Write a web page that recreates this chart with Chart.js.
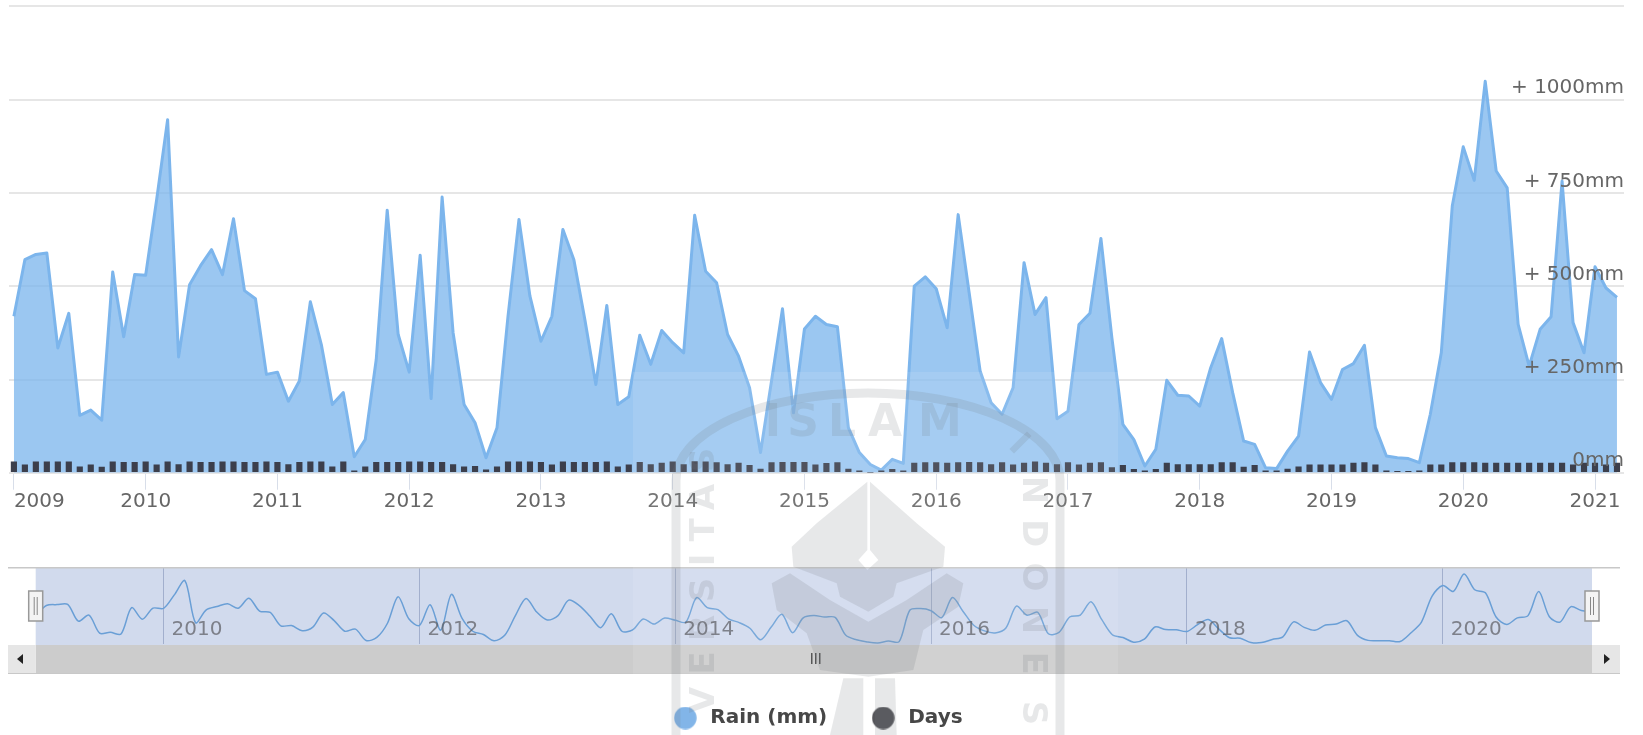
<!DOCTYPE html>
<html><head><meta charset="utf-8">
<style>html,body{margin:0;padding:0;background:#fff;width:1643px;height:735px;overflow:hidden}
canvas{position:absolute;left:0;top:0}</style>
<script src="https://cdn.jsdelivr.net/npm/chart.js@4"></script></head>
<body><div style="position:absolute;left:0;top:0;width:1643px;height:735px"><canvas id="main" width="1643" height="735"></canvas></div>
<div style="position:absolute;left:0;top:0;width:1643px;height:735px"><canvas id="nav" width="1643" height="735"></canvas></div>
<script>
const years=[2009,2010,2011,2012,2013,2014,2015,2016,2017,2018,2019,2020,2021];
const rain=[420,572,586,590,335,428,154,168,141,539,365,532,
530,733,948,311,505,556,599,532,682,489,467,264,
270,192,246,459,344,183,215,43,89,304,705,371,
270,584,199,740,376,183,134,40,121,420,680,474,
353,420,653,572,411,237,449,183,204,369,291,382,
349,322,691,541,510,371,313,228,54,246,440,161,
386,420,398,392,121,54,22,7,36,25,501,526,
494,389,693,483,273,188,157,228,564,425,470,145,
165,398,428,629,362,130,89,18,63,248,208,206,
179,282,360,215,85,76,13,11,58,98,324,242,
197,277,293,342,121,45,40,38,27,157,322,716,
875,785,1051,810,765,398,286,385,419,783,403,322,
553,496,471];
const days=[29,21,29,29,29,29,16,21,15,29,28,28,
29,21,29,22,29,28,28,29,29,28,28,29,
28,22,28,29,29,16,29,5,16,28,28,28,
29,29,28,28,22,16,17,8,16,29,29,29,
28,21,29,28,28,28,29,16,21,28,22,26,
29,22,30,29,27,22,26,20,10,27,28,28,
28,21,25,27,10,5,0,5,9,5,26,27,
27,26,27,28,27,22,27,21,26,29,26,22,
27,21,26,27,14,20,9,5,9,26,22,22,
22,22,27,27,15,20,5,5,10,16,21,21,
21,21,26,27,21,5,4,4,5,21,21,27,
27,27,26,26,26,26,26,26,26,26,21,26,
26,21,26];
const yTicks=[0,250,500,750,1000,1254];
const yLabels=['0mm','+ 250mm','+ 500mm','+ 750mm','+ 1000mm',''];
const navYears=[2010,2012,2014,2016,2018,2020];
const seriesNames=['Rain (mm)','Days'];
const FONT='"DejaVu Sans", sans-serif';
const xy=a=>a.map((v,i)=>({x:i,y:v}));
const dot=c=>{const e=document.createElement('canvas');e.width=23;e.height=23;const g=e.getContext('2d');g.fillStyle=c;g.beginPath();g.arc(11.5,11.5,11.2,0,7);g.fill();return e;};

new Chart(document.getElementById('main'),{
  type:'line',
  data:{datasets:[
    {type:'line',label:seriesNames[0],data:xy(rain),order:2,borderColor:'#7cb5ec',borderWidth:3,
     backgroundColor:'rgba(124,181,236,0.76)',fill:'origin',pointRadius:0,tension:0,borderJoinStyle:'round'},
    {type:'bar',label:seriesNames[1],data:xy(days),order:1,backgroundColor:'#3c3f4c',barThickness:5.5}
  ]},
  options:{responsive:false,animation:false,
    layout:{padding:{left:9,right:19,top:5.7,bottom:-3}},
    plugins:{tooltip:{enabled:false},
      legend:{position:'bottom',align:'center',
        labels:{usePointStyle:true,pointStyleWidth:30,boxHeight:16,padding:41,color:'#333',
          font:{family:FONT,size:20,weight:'bold'},
          generateLabels:()=>[
            {text:seriesNames[0],fontColor:'#333',pointStyle:dot('#74ade6'),datasetIndex:0,lineWidth:0},
            {text:seriesNames[1],fontColor:'#333',pointStyle:dot('#434348'),datasetIndex:1,lineWidth:0}]
        }}},
    scales:{
      x:{type:'linear',min:-0.446,max:146.64,offset:false,
        afterBuildTicks:s=>{s.ticks=years.map((y,i)=>({value:i*12})).concat([{value:146.64}]);},
        afterFit:s=>{s.height=735+3-472.7-(s.chart.legend?s.chart.legend.height:75);},
        ticks:{autoSkip:false,maxRotation:0,align:'inner',padding:0,color:'#666',font:{family:FONT,size:20},
          callback:(v)=>{const i=v/12;return Number.isInteger(i)&&years[i]?String(years[i]):'';}},
        grid:{offset:false,drawOnChartArea:false,tickLength:17,tickColor:c=>c.index===years.length?'rgba(0,0,0,0)':'#d8dee9',lineWidth:1},
        border:{display:false}},
      y:{type:'linear',position:'right',min:0,max:1254,
        afterBuildTicks:s=>{s.ticks=yTicks.map(v=>({value:v}));},
        afterFit:s=>{s.paddingTop=0;s.paddingBottom=0;},
        ticks:{mirror:true,padding:0,labelOffset:-12,z:1,color:'#666',font:{family:FONT,size:20},
          callback:v=>yLabels[yTicks.indexOf(v)]},
        grid:{color:'#e6e6e6',lineWidth:2,drawTicks:false},border:{display:false}}
    }
  }
});

const Z=(x,y)=>[630+x/3,370+y/3];
const poly=(g,pts)=>{g.beginPath();pts.forEach((p,i)=>{const q=Z(p[0],p[1]);i?g.lineTo(q[0],q[1]):g.moveTo(q[0],q[1]);});g.closePath();g.fill();};
const navChrome={id:'navChrome',
  beforeDatasetsDraw(c){const g=c.ctx,a=c.chartArea;g.save();
    g.fillStyle='rgba(102,133,194,0.3)';g.fillRect(a.left,568,a.right-a.left,77);
    g.fillStyle='#cccccc';g.fillRect(a.left,645,a.right-a.left,28);
    g.fillStyle='#e6e6e6';g.fillRect(8,645,a.left-8,28);g.fillRect(a.right,645,1620-a.right,28);
    g.fillStyle='#c8c8c8';g.fillRect(8,567,1612,1.5);
    g.fillRect(8,673,1612,1);
    g.restore();},
  afterDatasetsDraw(c){const g=c.ctx,a=c.chartArea;g.save();
    g.fillStyle='#222';
    g.beginPath();g.moveTo(17,659);g.lineTo(23,654);g.lineTo(23,664);g.fill();
    g.beginPath();g.moveTo(1610,659);g.lineTo(1604,654);g.lineTo(1604,664);g.fill();
    g.fillStyle='#444';[811,815,819].forEach(x=>g.fillRect(x,653,1.5,11));
    [a.left,a.right].forEach(x=>{g.fillStyle='#f4f4f4';g.strokeStyle='#999';g.lineWidth=1.5;
      g.fillRect(x-7,591,14,30);g.strokeRect(x-7,591,14,30);
      g.fillStyle='#888';g.fillRect(x-2,597,1,18);g.fillRect(x+1,597,1,18);});
    g.restore();
    // faint overlaid stamp
    g.save();
    g.fillStyle='rgba(255,255,255,0.1)';g.fillRect(633,372,485,363);
    const ink='rgba(115,118,125,0.17)';
    g.strokeStyle=ink;g.lineWidth=9;
    g.beginPath();g.moveTo(676,735);g.lineTo(676,480);g.ellipse(868,480,192,87,0,Math.PI,2*Math.PI);g.lineTo(1060,735);g.stroke();
    g.fillStyle=ink;g.textAlign='center';g.textBaseline='middle';
    g.font='bold 44px "DejaVu Sans"';
    [['I',773],['S',803],['L',842],['A',885],['M',940]].forEach(p=>g.fillText(p[0],p[1],425));
    g.font='bold 34px "DejaVu Sans"';
    [['V',700],['E',663],['R',628],['S',590],['I',560],['T',530],['A',497],['S',460]].forEach(p=>{
      g.save();g.translate(705,p[1]);g.rotate(-Math.PI/2);g.fillText(p[0],0,0);g.restore();});
    [['N',490],['D',533],['O',577],['N',620],['E',663],['S',713]].forEach(p=>{
      g.save();g.translate(1032,p[1]);g.rotate(Math.PI/2);g.fillText(p[0],0,0);g.restore();});
    g.save();g.translate(1018,445);g.rotate(Math.PI/4);g.fillText('I',0,0);g.restore();
    poly(g,[[712,335],[712,540],[685,570],[712,600],[745,570],[720,540],[720,335],[860,460],[945,530],[940,590],[800,640],[790,680],[715,725],[630,680],[620,640],[490,590],[485,530],[560,460]]);
    poly(g,[[425,640],[480,610],[600,690],[715,755],[830,690],[950,610],[1000,640],[985,710],[880,780],[850,900],[715,920],[570,900],[530,790],[440,720]]);
    poly(g,[[640,925],[700,925],[700,1095],[600,1095]]);
    poly(g,[[735,925],[795,925],[800,1095],[735,1095]]);
    g.restore();}
};

new Chart(document.getElementById('nav'),{
  type:'line',
  data:{datasets:[{label:seriesNames[0],data:xy(rain),borderColor:'#6a9fd6',borderWidth:1.5,pointRadius:0,fill:false,tension:0.3}]},
  plugins:[navChrome],
  options:{responsive:false,animation:false,
    layout:{padding:{left:35.7,right:51,top:568,bottom:90}},
    plugins:{legend:{display:false},tooltip:{enabled:false}},
    scales:{
      x:{type:'linear',min:0,max:146,
        afterBuildTicks:s=>{s.ticks=navYears.map(y=>({value:(y-years[0])*12}));},
        afterFit:s=>{s.height=1;},
        ticks:{autoSkip:false,mirror:true,maxRotation:0,align:'start',labelOffset:8,padding:2,z:1,color:'rgba(90,90,95,0.7)',
          font:{family:FONT,size:20},callback:v=>String(years[0]+v/12)},
        grid:{color:'#bcc2d2',lineWidth:1,drawTicks:false},border:{display:false}},
      y:{display:false,min:-10,max:1140}
    }
  }
});
</script></body></html>
